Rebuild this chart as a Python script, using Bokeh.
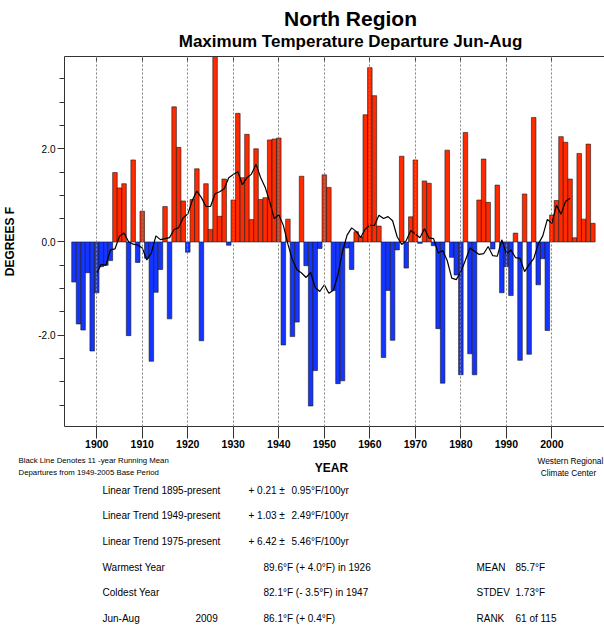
import pandas as pd
from bokeh.plotting import figure
from bokeh.layouts import column
from bokeh.models import (ColumnDataSource, Range1d, LinearAxis, FixedTicker,
                          NumeralTickFormatter)
from bokeh.core.properties import value
from bokeh.embed import file_html
from bokeh.resources import INLINE

# ---------------- data ----------------
years = list(range(1895, 2010))
departures = [
    -0.86, -1.76, -1.89, -0.66, -2.34,                     # 1895-1899
    -1.09, -0.53, -0.50, -0.40, 1.49, 1.16, 1.25, -2.01, 1.76, -0.44,   # 1900-1909
    0.66, -0.35, -2.56, -1.08, -0.59, 0.76, -1.65, 2.90, 2.03, 0.88,    # 1910-1919
    -0.22, 0.91, 1.57, -2.12, 1.25, 0.27, 4.00, 0.55, 1.35, -0.07,      # 1920-1929
    0.90, 2.76, 1.38, 2.31, 0.48, 2.00, 0.91, 0.95, 2.19, 2.21,         # 1930-1939
    2.23, -2.21, 0.49, -2.03, -1.72, 1.41, -0.51, -3.52, -2.76, -0.14,  # 1940-1949
    1.44, 1.17, -1.04, -3.04, -2.98, -0.13, -0.59, 0.22, 0.11, 2.73,    # 1950-1959
    3.74, 3.14, 0.34, -2.48, -1.04, -2.11, -0.17, 1.84, -0.56, 0.54,    # 1960-1969
    1.76, -0.03, 1.31, 1.26, -0.08, -1.86, -3.03, 1.97, -0.33, -0.71,   # 1970-1979
    -2.85, 2.35, -2.40, -2.85, 0.90, 1.78, 0.85, -0.15, 1.22, -1.09,    # 1980-1989
    -0.53, -1.15, 0.19, -2.54, 1.03, -2.41, 2.67, -0.92, -0.36, -1.90,  # 1990-1999
    0.58, 0.89, 2.26, 2.14, 1.35, 0.09, 1.90, 0.49, 2.10, 0.40,         # 2000-2009
]
decade_ticks = [1900, 1910, 1920, 1930, 1940, 1950, 1960, 1970, 1980, 1990, 2000]
y_major_ticks = [-4.0, -2.0, 0.0, 2.0, 4.0]
y_minor_ticks = [-3.5, -3.0, -2.5, -1.5, -1.0, -0.5, 0.5, 1.0, 1.5, 2.5, 3.0, 3.5]

title_text = "North Region"
subtitle_text = "Maximum Temperature Departure Jun-Aug"
trend_names = ["Linear Trend 1895-present", "Linear Trend 1949-present", "Linear Trend 1975-present"]
trend_values = ["+ 0.21 \u00b1", "+ 1.03 \u00b1", "+ 6.42 \u00b1"]
trend_errors = ["0.95\u00b0F/100yr", "2.49\u00b0F/100yr", "5.46\u00b0F/100yr"]
extreme_names = ["Warmest Year", "Coldest Year", "Jun-Aug"]
extreme_values = ["89.6\u00b0F  (+ 4.0\u00b0F) in 1926", "82.1\u00b0F  (- 3.5\u00b0F) in 1947",
                  "86.1\u00b0F  (+ 0.4\u00b0F)"]
current_year = "2009"
stat_names = ["MEAN", "STDEV", "RANK"]
stat_values = ["85.7\u00b0F", "1.73\u00b0F", "61  of 115"]

# 11-year running mean (as described on the chart)
running = pd.Series(departures, index=years).rolling(11, center=True).mean().dropna()

# ---------------- layout constants ----------------
W, H = 604, 628
TOP_H = 50          # title strip
MAIN_H = 406        # main figure (page y 50 .. 456)
BOT_H = H - TOP_H - MAIN_H
LEFT = 63
PX_PER_YEAR = 4.56
PX_PER_UNIT = 46.6
X0 = 1900 - (95.3 - LEFT) / PX_PER_YEAR
X1 = X0 + (W - LEFT) / PX_PER_YEAR
FRAME_TOP, FRAME_BOTTOM = 6, 30
Y1 = 3.98
Y0 = Y1 - (MAIN_H - FRAME_TOP - FRAME_BOTTOM) / PX_PER_UNIT
FONT = "Liberation Sans"


def text_figure(height, page_top):
    f = figure(width=W, height=height, output_backend="svg", toolbar_location=None,
               x_range=Range1d(0, W), y_range=Range1d(page_top + height, page_top),
               x_axis_location=None, y_axis_location=None, frame_align=False,
               min_border_left=0, min_border_right=0, min_border_top=0, min_border_bottom=0)
    f.outline_line_color = None
    f.xgrid.visible = False
    f.ygrid.visible = False
    return f


def add_texts(f, xs, ys, texts, size="10px", bold=False, align="left"):
    f.text(x=xs, y=ys, text=texts, text_font=value(FONT), text_font_size=value(size),
           text_font_style="bold" if bold else "normal", text_align=align,
           text_baseline="middle", text_color="black")


# ---------------- title strip ----------------
ft = text_figure(TOP_H, 0)
add_texts(ft, [350], [18], [title_text], size="21px", bold=True, align="center")
add_texts(ft, [350], [41], [subtitle_text], size="17px", bold=True, align="center")

# ---------------- main chart ----------------
colors = ["#FF2A00" if v > 0 else "#1434FF" for v in departures]
src = ColumnDataSource(dict(year=years, dep=departures, color=colors))
rm_src = ColumnDataSource(dict(year=list(running.index), rm=list(running.values)))

p = figure(width=W, height=MAIN_H, output_backend="svg", toolbar_location=None,
           x_range=Range1d(X0, X1), y_range=Range1d(Y0, Y1), frame_align=False,
           min_border_left=LEFT, min_border_right=0, min_border_top=FRAME_TOP,
           min_border_bottom=FRAME_BOTTOM)
p.outline_line_color = None

p.vbar(x="year", top="dep", bottom=0, width=1.0, source=src,
       fill_color="color", line_color="#1a1a1a", line_width=0.6)
p.line(x="year", y="rm", source=rm_src, line_color="black", line_width=1.2)

p.ygrid.visible = False
p.xgrid.ticker = FixedTicker(ticks=decade_ticks)
p.xgrid.grid_line_color = "#808080"
p.xgrid.grid_line_dash = "2 2"
p.xgrid.grid_line_width = 1
p.xgrid.level = "overlay"

xa = p.xaxis[0]
xa.ticker = FixedTicker(ticks=decade_ticks, minor_ticks=[])
xa.major_tick_in = 0
xa.major_tick_out = 12
xa.minor_tick_out = 0
xa.minor_tick_in = 0
xa.major_label_standoff = 1
xa.major_label_text_font = FONT
xa.major_label_text_font_style = "bold"
xa.major_label_text_font_size = "10.5px"
xa.major_label_text_color = "black"
xa.axis_line_color = "#333333"
xa.major_tick_line_color = "#333333"

ya = p.yaxis[0]
ya.ticker = FixedTicker(ticks=y_major_ticks, minor_ticks=y_minor_ticks)
ya.formatter = NumeralTickFormatter(format="0.0")
ya.major_tick_out = 7
ya.major_tick_in = 0
ya.minor_tick_out = 5
ya.minor_tick_in = 0
ya.major_label_standoff = 2
ya.major_label_text_font = FONT
ya.major_label_text_font_size = "10px"
ya.major_label_text_color = "black"
ya.axis_label = "DEGREES F"
ya.axis_label_text_font = FONT
ya.axis_label_text_font_style = "bold"
ya.axis_label_text_font_size = "12px"
ya.axis_label_text_color = "black"
ya.axis_label_standoff = 18
ya.axis_line_color = "#333333"
ya.major_tick_line_color = "#333333"
ya.minor_tick_line_color = "#333333"

# top frame edge with short inward decade ticks (no labels)
ta = LinearAxis(ticker=FixedTicker(ticks=decade_ticks, minor_ticks=[]))
ta.major_tick_in = 5
ta.major_tick_out = 0
ta.minor_tick_in = 0
ta.minor_tick_out = 0
ta.major_label_text_font_size = "0px"
ta.major_label_text_color = None
ta.major_label_standoff = 0
ta.axis_line_color = "#333333"
ta.major_tick_line_color = "#333333"
p.add_layout(ta, "above")

# ---------------- bottom text block ----------------
fb = text_figure(BOT_H, TOP_H + MAIN_H)
add_texts(fb, [18, 18], [460, 472],
          ["Black Line Denotes 11 -year Running Mean", "Departures from 1949-2005 Base Period"],
          size="7.8px")
add_texts(fb, [537], [460], ["Western Regional"], size="8.3px")
add_texts(fb, [568], [472], ["Climate Center"], size="8.3px", align="center")
add_texts(fb, [331], [467], ["YEAR"], size="12px", bold=True, align="center")

rows_y = [489.5, 515, 540.5, 566.5, 592, 617.5]
add_texts(fb, [102] * 3, rows_y[:3], trend_names)
add_texts(fb, [248] * 3, rows_y[:3], trend_values)
add_texts(fb, [291] * 3, rows_y[:3], trend_errors)
add_texts(fb, [102] * 3, rows_y[3:], extreme_names)
add_texts(fb, [263] * 3, rows_y[3:], extreme_values)
add_texts(fb, [476] * 3, rows_y[3:], stat_names)
add_texts(fb, [515] * 3, rows_y[3:], stat_values)
add_texts(fb, [195], [rows_y[5]], [current_year])

layout = column(ft, p, fb, spacing=0)
open("out.html", "w").write(file_html(layout, INLINE))
